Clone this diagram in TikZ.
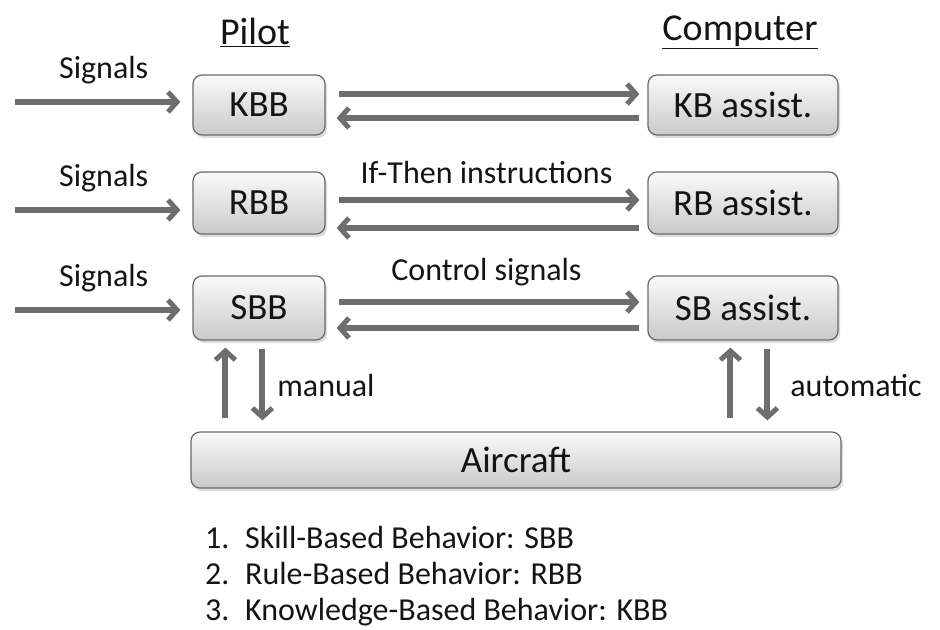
\documentclass[tikz,border=0pt]{standalone}
\usepackage{fontspec}
\setmainfont{Carlito}
\usetikzlibrary{arrows.meta}
\usetikzlibrary{shadows}

\definecolor{arrgray}{HTML}{6E6E6E}
\definecolor{boxline}{HTML}{6A6A6A}
\tikzset{
  box/.style={draw=boxline, line width=1.2bp, rounded corners=9bp,
    top color=gray!4, bottom color=gray!42,
    drop shadow={shadow xshift=2bp, shadow yshift=-3bp, fill=gray!55},
    font=\fontsize{37bp}{42bp}\selectfont, text=black!92, inner sep=0pt},
  arr/.style={draw=arrgray, line width=6bp,
    -{Straight Barb[length=9bp, width=20bp, line width=5bp]}},
  lbl/.style={font=\fontsize{32bp}{38bp}\selectfont, text=black!92, inner sep=0pt},
  head/.style={font=\fontsize{38bp}{44bp}\selectfont, text=black!92, inner sep=0pt}
}

\begin{document}
\begin{tikzpicture}[x=1bp, y=-1bp]
\useasboundingbox (0,0) rectangle (940,630);

\node[head] (pilot) at (255,32) {\underline{Pilot}};
\node[head] (computer) at (740,32) {\underline{Computer}};

\node[box, minimum width=132bp, minimum height=60bp] (kbb) at (259,105) {KBB};
\node[box, minimum width=190bp, minimum height=60bp] (kba) at (743,105) {KB assist.};
\node[box, minimum width=132bp, minimum height=62bp] (rbb) at (259,203) {RBB};
\node[box, minimum width=190bp, minimum height=62bp] (rba) at (743,203) {RB assist.};
\node[box, minimum width=132bp, minimum height=64bp] (sbb) at (259,308) {SBB};
\node[box, minimum width=190bp, minimum height=64bp] (sba) at (743,308) {SB assist.};
\node[box, minimum width=650bp, minimum height=56bp] (aircraft) at (516,460) {Aircraft};

% input signals
\coordinate (s1) at (15,102);
\coordinate (s2) at (15,210);
\coordinate (s3) at (15,310);
\draw[arr, shorten >=12bp] (s1) -- (s1 -| kbb.west) node[lbl, midway, above=15bp] {Signals};
\draw[arr, shorten >=12bp] (s2) -- (s2 -| rbb.west) node[lbl, midway, above=15bp] {Signals};
\draw[arr, shorten >=12bp] (s3) -- (s3 -| sbb.west) node[lbl, midway, above=15bp] {Signals};

% pilot <-> computer
\draw[arr, shorten <=13bp, shorten >=8bp] ([yshift=11bp]kbb.east) -- ([yshift=11bp]kba.west);
\draw[arr, shorten <=8bp, shorten >=11bp] ([yshift=-13bp]kba.west) -- ([yshift=-13bp]kbb.east);
\draw[arr, shorten <=13bp, shorten >=8bp] ([yshift=3bp]rbb.east) -- ([yshift=3bp]rba.west)
  node[lbl, midway, above=13bp] {If-Then instructions};
\draw[arr, shorten <=8bp, shorten >=11bp] ([yshift=-25bp]rba.west) -- ([yshift=-25bp]rbb.east);
\draw[arr, shorten <=13bp, shorten >=8bp] ([yshift=6bp]sbb.east) -- ([yshift=6bp]sba.west)
  node[lbl, midway, above=13bp] {Control signals};
\draw[arr, shorten <=8bp, shorten >=11bp] ([yshift=-20bp]sba.west) -- ([yshift=-20bp]sbb.east);

% aircraft links
\coordinate (upl) at ([xshift=33bp]sbb.south west);
\coordinate (dnl) at ([xshift=70bp]sbb.south west);
\coordinate (upr) at ([xshift=83bp]sba.south west);
\coordinate (dnr) at ([xshift=120bp]sba.south west);
\draw[arr, shorten <=13bp, shorten >=7bp] (upl |- aircraft.north) -- (upl);
\draw[arr, shorten <=8bp, shorten >=11bp] (dnl) -- (dnl |- aircraft.north)
  node[lbl, midway, right=12bp] {manual};
\draw[arr, shorten <=13bp, shorten >=7bp] (upr |- aircraft.north) -- (upr);
\draw[arr, shorten <=8bp, shorten >=11bp] (dnr) -- (dnr |- aircraft.north)
  node[lbl, midway, right=20bp] {automatic};

% legend
\node[lbl, anchor=base west] (l1) at (205,548) {\makebox[40bp][l]{1.}Skill-Based Behavior: SBB};
\node[lbl, anchor=base west] (l2) at (205,584) {\makebox[40bp][l]{2.}Rule-Based Behavior: RBB};
\node[lbl, anchor=base west] (l3) at (205,620) {\makebox[40bp][l]{3.}Knowledge-Based Behavior: KBB};
\end{tikzpicture}
\end{document}
